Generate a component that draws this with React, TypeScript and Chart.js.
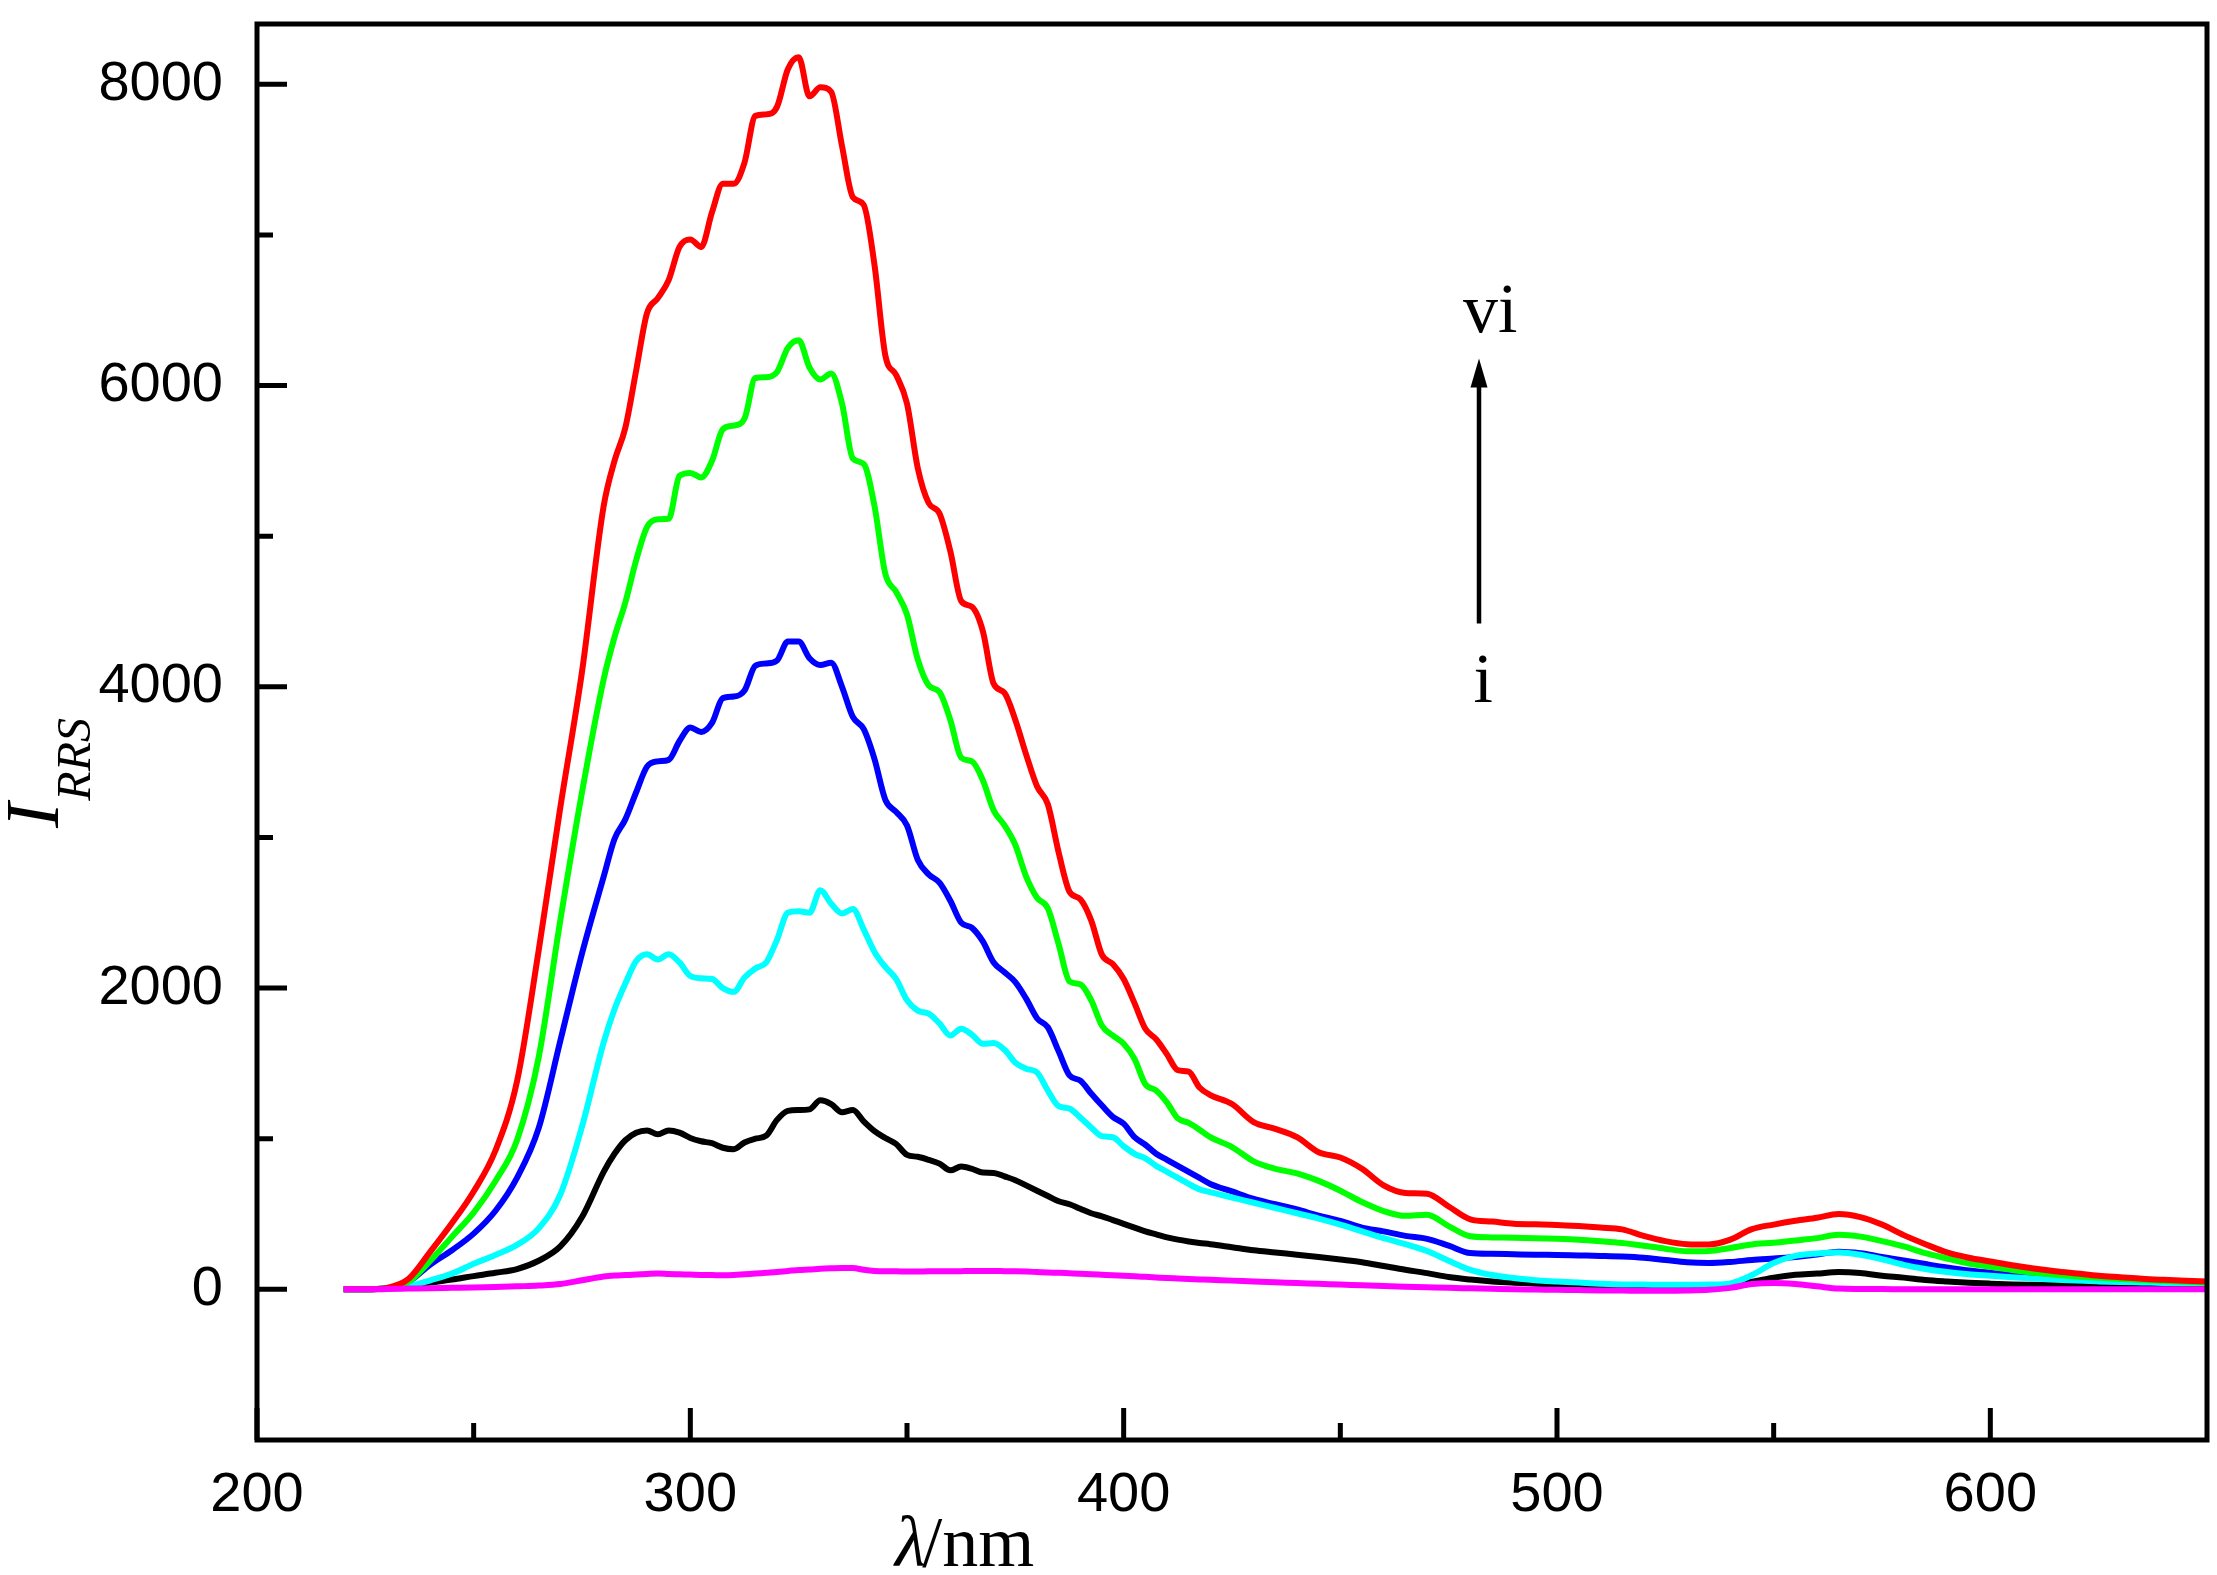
import React, { useEffect, useRef } from "react";
import { Chart, registerables } from "chart.js";

Chart.register(...registerables);

// wavelength grid (nm)
const WAVELENGTHS = [
  220, 225, 230, 235, 240, 245, 250, 255, 260, 265, 270, 275, 280,
  282.5, 285, 287.5, 290, 292.5, 295, 297.5, 300, 302.5, 305,
  307.5, 310, 312.5, 315, 317.5, 320, 322.5, 325, 327.5, 330,
  332.5, 335, 337.5, 340, 342.5, 345, 347.5, 350, 352.5, 355,
  357.5, 360, 362.5, 365, 367.5, 370, 372.5, 375, 377.5, 380,
  382.5, 385, 387.5, 390, 392.5, 395, 397.5, 400, 402.5, 405,
  407.5, 410, 412.5, 415, 417.5, 420,
  425, 430, 435, 440, 445, 450, 455, 460, 465, 470,
  475, 480, 485, 490, 495, 500, 505, 510, 515, 520,
  525, 530, 535, 540, 545, 550, 555, 560, 565, 570,
  575, 580, 585, 590, 595, 600, 605, 610, 615, 620,
  625, 630, 635, 640, 645, 650,
];

const RED = [
  0, 0, 10, 70, 250, 440, 650, 920, 1380, 2250, 3200, 4100, 5200,
  5500, 5720, 6100, 6480, 6580, 6700, 6920, 6970, 6920, 7150,
  7340, 7340, 7480, 7790, 7800, 7850, 8100, 8180, 7920, 7980,
  7950, 7590, 7250, 7200, 6800, 6200, 6070, 5880, 5450, 5220,
  5150, 4900, 4570, 4530, 4370, 4020, 3960, 3780, 3550, 3340,
  3220, 2900, 2640, 2590, 2450, 2220, 2160, 2060, 1900, 1730,
  1660, 1560, 1455, 1445, 1340, 1290,
  1230, 1110, 1065, 1010, 910, 875, 800, 690, 640, 635,
  550, 465, 450, 436, 432, 428, 420, 410, 398, 355,
  320, 300, 298, 330, 400, 430, 455, 475, 500, 480,
  430, 360, 300, 245, 210, 185, 160, 138, 120, 105,
  90, 80, 70, 63, 57, 53,
];

const GREEN = [
  0, 0, 5, 50, 190, 350, 510, 718, 990, 1540, 2450, 3300, 4050,
  4330, 4560, 4840, 5060, 5112, 5115, 5400, 5420, 5390, 5500,
  5710, 5734, 5780, 6050, 6055, 6090, 6250, 6300, 6120, 6040,
  6080, 5880, 5515, 5480, 5200, 4750, 4630, 4480, 4180, 4010,
  3965, 3780, 3530, 3505, 3380, 3180, 3080, 2950, 2740, 2600,
  2530, 2290, 2045, 2025, 1920, 1750, 1685, 1630, 1530, 1362,
  1320, 1240, 1135, 1105, 1060, 1010,
  945, 850, 800, 770, 720, 655, 580, 520, 488, 495,
  420, 352, 345, 342, 340, 336, 330, 320, 308, 290,
  270, 253, 255, 275, 298, 310, 325, 340, 362, 350,
  320, 285, 240, 205, 172, 150, 128, 110, 97, 86,
  77, 69, 62, 56, 50, 45,
];

const BLUE = [
  0, 0, 5, 50, 165, 260, 370, 520, 740, 1070, 1650, 2230, 2740,
  2990, 3120, 3300, 3470, 3505, 3515, 3640, 3730, 3700, 3760,
  3925, 3935, 3975, 4140, 4155, 4175, 4300, 4300, 4190, 4145,
  4160, 4000, 3800, 3720, 3520, 3250, 3170, 3080, 2850, 2755,
  2700, 2580, 2435, 2400, 2310, 2170, 2105, 2040, 1930, 1800,
  1740, 1580, 1420, 1385, 1300, 1220, 1145, 1100, 1010, 960,
  900, 860, 820, 780, 740, 700,
  650, 600, 565, 530, 490, 455, 410, 385, 355, 335,
  290, 241, 236, 233, 230, 228, 225, 222, 218, 210,
  195, 180, 175, 182, 195, 205, 215, 232, 250, 240,
  215, 192, 168, 145, 125, 110, 96, 85, 76, 68,
  61, 55, 50, 46, 43, 40,
];

const CYAN = [
  0, 0, 5, 20, 60, 105, 170, 228, 295, 405, 630, 1080, 1640,
  1860, 2030, 2180, 2225, 2190, 2225, 2170, 2080, 2065, 2060,
  2000, 1975, 2070, 2130, 2170, 2320, 2500, 2510, 2500, 2650,
  2560, 2495, 2525, 2390, 2240, 2140, 2060, 1920, 1850, 1830,
  1765, 1685, 1730, 1690, 1630, 1635, 1590, 1505, 1465, 1440,
  1320, 1216, 1200, 1140, 1075, 1017, 1010, 950, 900, 870,
  820, 780, 740, 700, 664, 645,
  610, 575, 540, 505, 470, 430, 385, 340, 300, 255,
  190, 130, 95, 75, 60, 52, 45, 38, 33, 32,
  30, 30, 32, 40, 95, 175, 222, 238, 245, 230,
  200, 163, 135, 115, 100, 90, 80, 72, 65, 58,
  53, 49, 46, 43, 41, 40,
];

const BLACK = [
  0, 0, 5, 20, 45, 65, 88, 110, 135, 190, 285, 480, 780,
  900, 990, 1040, 1055, 1030, 1055, 1040, 1005, 983, 970,
  940, 930, 975, 1000, 1020, 1125, 1185, 1190, 1195, 1255,
  1230, 1175, 1190, 1115, 1050, 1005, 965, 893, 880, 860,
  835, 790, 815, 800, 775, 773, 750, 725, 690, 655,
  620, 585, 565, 535, 505, 485, 460, 435, 410, 385,
  365, 345, 330, 318, 308, 300,
  280, 260, 245, 230, 215, 198, 180, 155, 130, 108,
  82, 65, 52, 44, 38, 32, 27, 22, 20, 20,
  20, 20, 20, 30, 50, 78, 97, 105, 115, 108,
  90, 78, 62, 52, 44, 38, 33, 30, 27, 25,
  23, 22, 21, 20, 20, 20,
];

const MAGENTA = [
  0, 0, 2, 5, 8, 10, 12, 15, 20, 25, 35, 60, 85,
  92, 95, 98, 102, 105, 102, 100, 98, 96, 95,
  93, 95, 100, 105, 110, 115, 122, 128, 132, 137,
  140, 142, 142, 130, 122, 120, 120, 118, 118, 120,
  120, 120, 121, 122, 122, 122, 121, 120, 118, 115,
  112, 110, 107, 104, 100, 97, 94, 90, 87, 83,
  79, 75, 72, 69, 66, 63,
  58, 52, 47, 42, 37, 32, 27, 22, 18, 14,
  10, 7, 4, 1, -1, -3, -5, -7, -8, -10,
  -10, -8, -3, 10, 35, 42, 35, 20, 5, 3,
  2, 1, 0, 0, 0, 0, 0, 0, 0, 0,
  0, 0, 0, 0, 0, 0,
];

const X_MAJOR = [200, 300, 400, 500, 600];
const X_MINOR = [250, 350, 450, 550];
const Y_MAJOR = [0, 2000, 4000, 6000, 8000];
const Y_MINOR = [1000, 3000, 5000, 7000];

const SANS = "'Liberation Sans', Arial, sans-serif";
const SERIF = "'Liberation Serif', 'Times New Roman', serif";

const toPoints = (values: number[]) =>
  values.map((v, i) => ({ x: WAVELENGTHS[i], y: v }));

// frame + inward ticks, drawn over the curves
const framePlugin = {
  id: "frame",
  afterDatasetsDraw(chart: any) {
    const { ctx, chartArea: a, scales } = chart;
    const xs = scales.x;
    const ys = scales.y;
    ctx.save();
    ctx.strokeStyle = "#000";
    ctx.lineWidth = 5;
    ctx.beginPath();
    X_MAJOR.forEach(v => {
      const px = xs.getPixelForValue(v);
      ctx.moveTo(px, a.bottom);
      ctx.lineTo(px, a.bottom - 32);
    });
    X_MINOR.forEach(v => {
      const px = xs.getPixelForValue(v);
      ctx.moveTo(px, a.bottom);
      ctx.lineTo(px, a.bottom - 17);
    });
    Y_MAJOR.forEach(v => {
      const py = ys.getPixelForValue(v);
      ctx.moveTo(a.left, py);
      ctx.lineTo(a.left + 30, py);
    });
    Y_MINOR.forEach(v => {
      const py = ys.getPixelForValue(v);
      ctx.moveTo(a.left, py);
      ctx.lineTo(a.left + 16, py);
    });
    ctx.stroke();
    ctx.lineJoin = "miter";
    ctx.strokeRect(a.left, a.top, a.right - a.left, a.bottom - a.top);
    ctx.restore();
  },
};

// axis titles and the i -> vi arrow
const labelsPlugin = {
  id: "labels",
  afterDraw(chart: any) {
    const { ctx, scales } = chart;
    const xs = scales.x;
    const ys = scales.y;
    ctx.save();
    ctx.fillStyle = "#000";
    ctx.strokeStyle = "#000";

    // x title: λ/nm
    ctx.textBaseline = "alphabetic";
    ctx.textAlign = "left";
    ctx.font = `italic 72px ${SERIF}`;
    const lx = 895;
    ctx.fillText("λ", lx, 1566);
    const lw = ctx.measureText("λ").width;
    ctx.font = `72px ${SERIF}`;
    ctx.fillText("/nm", lx + lw - 4, 1566);

    // y title: I_RRS, rotated
    ctx.save();
    ctx.translate(58, 828);
    ctx.rotate(-Math.PI / 2);
    ctx.font = `italic 76px ${SERIF}`;
    ctx.fillText("I", 0, 0);
    const iw = ctx.measureText("I").width;
    ctx.font = `italic 48px ${SERIF}`;
    ctx.fillText("RRS", iw + 2, 32);
    ctx.restore();

    // arrow
    const ax = xs.getPixelForValue(482);
    const yBottom = ys.getPixelForValue(4420);
    const yTip = ys.getPixelForValue(6180);
    ctx.lineWidth = 4.5;
    ctx.beginPath();
    ctx.moveTo(ax, yBottom);
    ctx.lineTo(ax, yTip + 20);
    ctx.stroke();
    ctx.beginPath();
    ctx.moveTo(ax, yTip);
    ctx.lineTo(ax - 8.5, yTip + 29);
    ctx.lineTo(ax + 8.5, yTip + 29);
    ctx.closePath();
    ctx.fill();

    ctx.font = `70px ${SERIF}`;
    ctx.textAlign = "center";
    ctx.fillText("vi", xs.getPixelForValue(484.6), ys.getPixelForValue(6355));
    ctx.fillText("i", xs.getPixelForValue(483), ys.getPixelForValue(3898));
    ctx.restore();
  },
};

export default function App() {
  const canvasRef = useRef<HTMLCanvasElement | null>(null);
  const chartRef = useRef<Chart | null>(null);

  useEffect(() => {
    if (!canvasRef.current) return;
    if (chartRef.current) chartRef.current.destroy();
    const ctx = canvasRef.current.getContext("2d");
    if (!ctx) return;

    const line = (data: number[], color: string) => ({
      data: toPoints(data),
      borderColor: color,
      backgroundColor: color,
      borderWidth: 6,
      borderJoinStyle: "round" as const,
      pointRadius: 0,
      cubicInterpolationMode: "monotone" as const,
      fill: false,
    });

    chartRef.current = new Chart(ctx, {
      type: "line",
      data: {
        datasets: [
          line(MAGENTA, "#ff00ff"),
          line(RED, "#ff0000"),
          line(GREEN, "#00ff00"),
          line(CYAN, "#00ffff"),
          line(BLUE, "#0000ff"),
          line(BLACK, "#000000"),
        ],
      },
      options: {
        responsive: false,
        animation: false,
        devicePixelRatio: 1,
        layout: { padding: { top: 24, right: 10, left: 0, bottom: 0 } },
        plugins: {
          legend: { display: false },
          tooltip: { enabled: false },
        },
        scales: {
          x: {
            type: "linear",
            min: 200,
            max: 650,
            afterBuildTicks: (scale: any) => {
              scale.ticks = X_MAJOR.map(v => ({ value: v }));
            },
            afterFit: (scale: any) => {
              scale.height = 1575 - 1440;
              scale.paddingLeft = 0;
              scale.paddingRight = 0;
            },
            grid: { display: false, drawTicks: false },
            border: { display: false },
            ticks: {
              color: "#000",
              padding: 22,
              maxRotation: 0,
              font: { family: SANS, size: 56 },
              callback: (v: any) => String(v),
            },
          },
          y: {
            type: "linear",
            min: -1000,
            max: 8400,
            afterBuildTicks: (scale: any) => {
              scale.ticks = Y_MAJOR.map(v => ({ value: v }));
            },
            afterFit: (scale: any) => {
              scale.width = 257;
              scale.paddingTop = 0;
              scale.paddingBottom = 0;
            },
            grid: { display: false, drawTicks: false },
            border: { display: false },
            ticks: {
              color: "#000",
              padding: 34,
              font: { family: SANS, size: 56 },
              callback: (v: any) => String(v),
            },
          },
        },
      },
      plugins: [framePlugin, labelsPlugin],
    });

    return () => {
      if (chartRef.current) {
        chartRef.current.destroy();
        chartRef.current = null;
      }
    };
  }, []);

  return (
    <div style={{ position: "absolute", left: 0, top: 0, width: 2217, height: 1575, background: "#fff" }}>
      <canvas ref={canvasRef} width={2217} height={1575} style={{ width: 2217, height: 1575 }} />
    </div>
  );
}
